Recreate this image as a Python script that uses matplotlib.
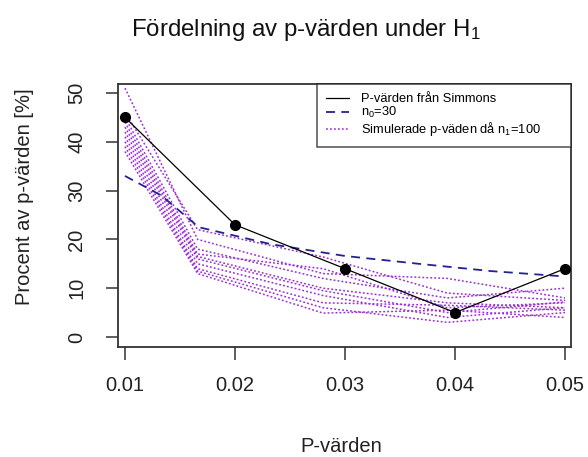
import matplotlib.pyplot as plt

plt.rcParams['font.family'] = ['Liberation Sans', 'DejaVu Sans']
plt.rcParams['mathtext.default'] = 'regular'

# %% Data.
p_levels = [0.01, 0.02, 0.03, 0.04, 0.05]
simmons = [45, 23, 14, 5, 14]

n0_x = [0.01, 0.0133, 0.0167, 0.0233, 0.03, 0.0367, 0.0433, 0.05]
n0_pct = [33, 29, 22.5, 19, 16.6, 15, 13.5, 12.4]

sim_x = [0.01, 0.0166, 0.028, 0.0393, 0.05]
sim_pct = [
    [51, 20, 13, 12, 8],
    [46, 22, 16.4, 9, 7.5],
    [45, 18, 12, 8, 10],
    [44, 17, 14, 6, 7],
    [43, 16.5, 10, 7, 6],
    [42, 16, 9.5, 5, 7.2],
    [41, 15, 8.5, 4, 6],
    [40, 14, 7, 6.5, 5.5],
    [39, 13.5, 6, 3, 5],
    [38, 13, 4.9, 5.5, 4],
]

x_ticks = [0.01, 0.02, 0.03, 0.04, 0.05]
y_ticks = [0, 10, 20, 30, 40, 50]

# %% Plot.
fig = plt.figure(figsize=(5.88, 4.57), dpi=100)
ax = fig.add_axes([118 / 588, 1 - 347 / 457, 453 / 588, 263 / 457])

purple = '#9a2ed6'
for i, row in enumerate(sim_pct):
    ax.plot(sim_x, row, color=purple, linestyle=(0, (1.2, 1.4)), linewidth=1.1,
            label='Simulerade p-väden då n$_1$=100' if i == 0 else None, zorder=2)
ax.plot(n0_x, n0_pct, color='#23238f', linestyle=(0, (5, 3.5)), linewidth=1.3,
        label='n$_0$=30', zorder=3)
ax.plot(p_levels, simmons, color='black', linewidth=0.9,
        label='P-värden från Simmons', zorder=4)
ax.plot(p_levels, simmons, linestyle='none', color='black', marker='o',
        markersize=7, zorder=5)

ax.set_xlim(0.009364, 0.050545)
ax.set_ylim(-2.05, 51.84)
ax.set_xticks(x_ticks)
ax.set_xticklabels([f'{v:.2f}' for v in x_ticks])
ax.set_yticks(y_ticks)
ax.set_yticklabels([str(v) for v in y_ticks], rotation=90, va='center')
ax.tick_params(axis='both', direction='out', length=9, width=1.1, color='#333333',
               labelsize=14.5, labelcolor='#222222')
ax.tick_params(axis='x', pad=12)
ax.tick_params(axis='y', pad=14)
for s in ax.spines.values():
    s.set_linewidth(1.3)
    s.set_color('#333333')

handles, labels = ax.get_legend_handles_labels()
order = [2, 1, 0]
leg = ax.legend([handles[i] for i in order], [labels[i] for i in order],
                loc='upper left', bbox_to_anchor=(0.4393, 0, 0.5607, 1.0),
                mode='expand', borderaxespad=0, fontsize=9.3, frameon=True,
                fancybox=False, edgecolor='#222222', labelspacing=0.0,
                handlelength=1.8, handletextpad=0.9, borderpad=0.7)
leg.get_frame().set_linewidth(1.1)

fig.text(306 / 588, 1 - 30 / 457, 'Fördelning av p-värden under H$_1$',
         ha='center', va='center', fontsize=17.3, color='#111111')
fig.text(341 / 588, 1 - 446 / 457, 'P-värden', ha='center', va='center',
         fontsize=14.5, color='#222222')
fig.text(25 / 588, 1 - 197 / 457, 'Procent av p-värden [%]', ha='center',
         va='center', rotation=90, fontsize=14.5, color='#222222')

plt.savefig('out.png', dpi=100)
